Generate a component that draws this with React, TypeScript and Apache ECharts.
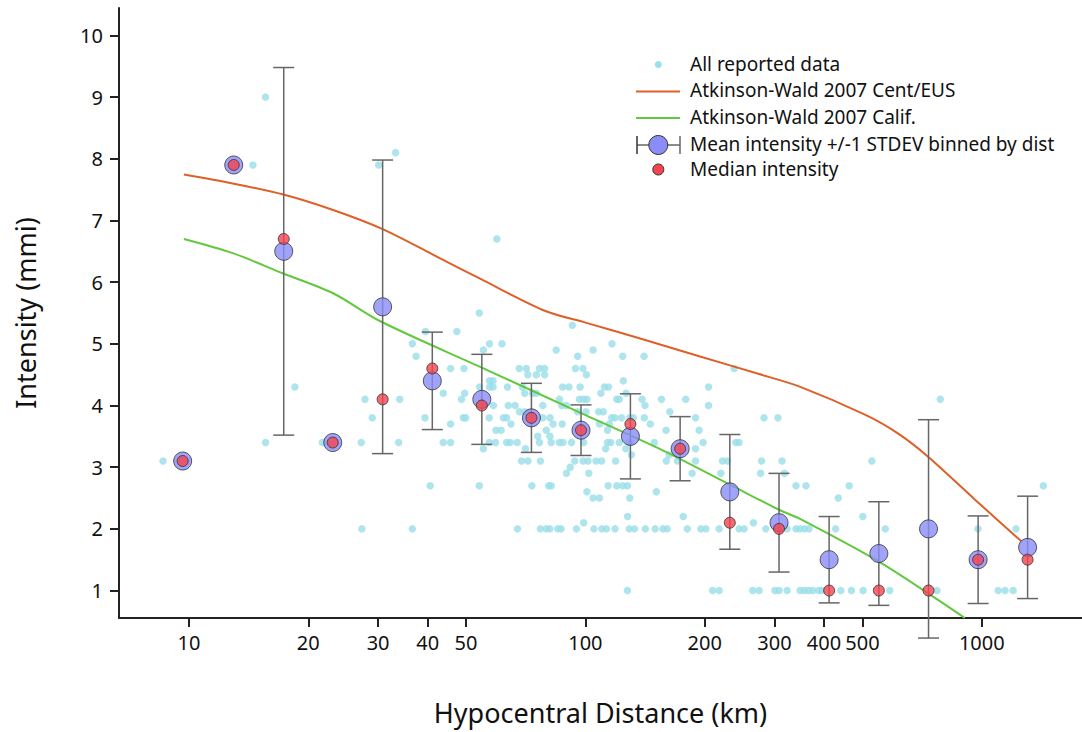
import React, { useEffect, useRef } from "react";
import * as echarts from "echarts";

// ---------- data ----------
const xTickValues = [10, 20, 30, 40, 50, 100, 200, 300, 400, 500, 1000];
const yTickValues = [1, 2, 3, 4, 5, 6, 7, 8, 9, 10];

// All reported data: [hypocentral distance (km), intensity (mmi)]
const reportedPoints: [number, number][] = [
  [15.6, 9.0], [33.2, 8.1], [14.5, 7.9], [30.1, 7.9], [59.8, 6.7], [54.0, 5.5], [92.7, 5.3],
  [39.5, 5.2], [47.4, 5.2],
  [36.6, 5.0], [57.3, 5.0], [61.6, 5.0], [116.7, 5.0],
  [55.3, 4.9], [84.4, 4.9], [104.6, 4.9],
  [37.4, 4.8], [95.6, 4.8], [124.2, 4.8], [140.6, 4.8],
  [45.7, 4.6], [49.4, 4.6], [68.1, 4.6], [71.0, 4.6], [76.6, 4.6], [78.9, 4.6], [94.4, 4.6], [98.6, 4.6], [237.3, 4.6],
  [71.6, 4.5], [75.2, 4.5], [78.9, 4.5], [100.6, 4.5],
  [57.3, 4.4], [58.5, 4.4], [124.7, 4.4],
  [18.5, 4.3], [54.1, 4.3], [57.3, 4.3], [58.5, 4.3], [63.6, 4.3], [69.4, 4.3], [87.6, 4.3], [90.9, 4.3], [97.0, 4.3], [111.7, 4.3], [114.4, 4.3], [204.5, 4.3],
  [43.8, 4.2], [49.6, 4.2], [70.3, 4.2], [73.6, 4.2], [75.2, 4.2], [109.4, 4.2], [126.7, 4.2],
  [27.8, 4.1], [34.0, 4.1], [48.7, 4.1], [86.0, 4.1], [96.6, 4.1], [99.0, 4.1], [100.9, 4.1], [120.0, 4.1], [121.8, 4.1], [139.0, 4.1], [155.6, 4.1], [179.1, 4.1], [786, 4.1],
  [58.6, 4.0], [63.9, 4.0], [66.5, 4.0], [78.1, 4.0], [87.2, 4.0], [89.6, 4.0], [141.4, 4.0], [204.5, 4.0],
  [68.2, 3.9], [70.3, 3.9], [95.6, 3.9], [100.4, 3.9], [108.0, 3.9], [111.0, 3.9], [163.3, 3.9],
  [29.0, 3.8], [39.4, 3.8], [49.2, 3.8], [49.9, 3.8], [57.2, 3.8], [62.1, 3.8], [63.3, 3.8], [78.1, 3.8], [81.4, 3.8], [116.5, 3.8], [118.8, 3.8], [123.4, 3.8], [129.4, 3.8], [132.1, 3.8], [140.8, 3.8], [189.6, 3.8], [282.3, 3.8], [306, 3.8],
  [45.7, 3.7], [64.9, 3.7], [82.9, 3.7], [87.4, 3.7], [108.5, 3.7], [114.9, 3.7], [145.8, 3.7],
  [59.5, 3.6], [61.3, 3.6], [79.7, 3.6], [113.7, 3.6], [159.8, 3.6], [193.7, 3.6],
  [75.8, 3.5], [81.4, 3.5],
  [15.6, 3.4], [21.7, 3.4], [27.2, 3.4], [33.8, 3.4], [43.8, 3.4], [45.7, 3.4], [57.2, 3.4], [59.3, 3.4], [63.3, 3.4], [64.6, 3.4], [67.3, 3.4], [76.6, 3.4], [82.0, 3.4], [86.0, 3.4], [87.8, 3.4], [92.3, 3.4], [99.0, 3.4], [113.7, 3.4], [115.9, 3.4], [121.8, 3.4], [129.4, 3.4], [149.2, 3.4], [198.2, 3.4], [239.6, 3.4], [244.2, 3.4],
  [55.3, 3.3], [70.6, 3.3], [112.5, 3.3], [126.5, 3.3], [189.6, 3.3],
  [130.6, 3.2], [162.6, 3.2],
  [8.6, 3.1], [69.0, 3.1], [71.6, 3.1], [77.0, 3.1], [94.0, 3.1], [98.7, 3.1], [101.5, 3.1], [106.4, 3.1], [109.9, 3.1], [119.2, 3.1], [160, 3.1], [170.8, 3.1], [189.6, 3.1], [221.8, 3.1], [228.4, 3.1], [278.3, 3.1], [313.4, 3.1], [528, 3.1],
  [91.6, 3.0],
  [89.6, 2.9], [102, 2.9], [185.9, 2.9], [219.6, 2.9], [276.7, 2.9], [317.9, 2.9],
  [40.6, 2.7], [54.0, 2.7], [73.3, 2.7], [80.8, 2.7], [82.0, 2.7], [114.1, 2.7], [120, 2.7], [124.2, 2.7], [127.7, 2.7], [339.8, 2.7], [360.1, 2.7], [463, 2.7], [1430, 2.7],
  [100.9, 2.6], [151, 2.6],
  [104.6, 2.5], [108.5, 2.5], [129.4, 2.5], [434.5, 2.5],
  [127.8, 2.2], [176.5, 2.2], [501, 2.2],
  [99.0, 2.1], [265.4, 2.1],
  [27.3, 2.0], [36.6, 2.0], [67.4, 2.0], [77.0, 2.0], [79.7, 2.0], [81.4, 2.0], [85.2, 2.0], [86.9, 2.0], [94.9, 2.0], [105.1, 2.0], [110, 2.0], [113, 2.0], [118.8, 2.0], [129.0, 2.0], [133.0, 2.0], [141.7, 2.0], [150, 2.0], [156.9, 2.0], [160.8, 2.0], [180.8, 2.0], [195.6, 2.0], [201.4, 2.0], [217.5, 2.0], [244.2, 2.0], [251.5, 2.0], [285.2, 2.0], [322.8, 2.0], [339.8, 2.0], [348.1, 2.0], [357.0, 2.0], [366.6, 2.0], [427.8, 2.0], [571, 2.0], [978, 2.0], [1220, 2.0],
  [127.7, 1.0], [209.4, 1.0], [217.5, 1.0], [264.3, 1.0], [274.3, 1.0], [300.7, 1.0], [308, 1.0], [322.8, 1.0], [348.1, 1.0], [357, 1.0], [366, 1.0], [375, 1.0], [388, 1.0], [395, 1.0], [441, 1.0], [469, 1.0], [502, 1.0], [586, 1.0], [771, 1.0], [1100, 1.0], [1145, 1.0], [1200, 1.0],
];

// Atkinson-Wald 2007 model curves: [distance (km), intensity]
const awCentEUS: [number, number][] = [
  [9.71, 7.745], [12.9, 7.6], [17.3, 7.42], [23.1, 7.17], [30.8, 6.86], [42.9, 6.39], [54.1, 6.06],
  [79.0, 5.536], [100.6, 5.34], [136.8, 5.09], [193.7, 4.8], [274.3, 4.51], [346, 4.31],
  [512, 3.84], [617, 3.54], [732, 3.17], [963, 2.47], [1260, 1.795],
];
const awCalif: [number, number][] = [
  [9.71, 6.7], [12.9, 6.47], [17.3, 6.14], [23.1, 5.82], [30.3, 5.37], [54.1, 4.63], [96.6, 3.89],
  [153.6, 3.3], [231, 2.72], [308, 2.31], [346, 2.17], [550, 1.47], [779, 0.84], [906, 0.555],
];

// Binned statistics
const binDist = [9.64, 12.97, 17.34, 23.05, 30.8, 41.1, 54.8, 73.1, 97.5, 129.9, 173.4, 231.4, 308, 412, 550, 734, 979, 1305];
const binMean = [3.1, 7.9, 6.5, 3.4, 5.6, 4.4, 4.1, 3.8, 3.6, 3.5, 3.3, 2.6, 2.1, 1.5, 1.6, 2.0, 1.5, 1.7];
const binStd = [0, 0, 2.98, 0, 2.38, 0.79, 0.73, 0.56, 0.41, 0.69, 0.52, 0.93, 0.8, 0.7, 0.84, 1.77, 0.71, 0.83];
const binMedian = [3.1, 7.9, 6.7, 3.4, 4.1, 4.6, 4.0, 3.8, 3.6, 3.7, 3.3, 2.1, 2.0, 1.0, 1.0, 1.0, 1.5, 1.5];

const legendLabels = [
  "All reported data",
  "Atkinson-Wald 2007 Cent/EUS",
  "Atkinson-Wald 2007 Calif.",
  "Mean intensity +/-1 STDEV binned by dist",
  "Median intensity",
];

// ---------- styles ----------
const FONT = "'Noto Sans', sans-serif";
const CYAN = "#9adfe9";
const ORANGE = "#de6028";
const GREEN = "#62c83e";
const BLUE = "#8a8cf8";
const RED = "#f5444f";
const BAR = "#666666";
const TEXT = "#111111";

export default function App() {
  const ref = useRef<HTMLDivElement>(null);

  useEffect(() => {
    if (!ref.current) return;
    const chart = echarts.init(ref.current, undefined, { renderer: "svg" });

    const errData = binDist
      .map((d, i) => [d, binMean[i] - binStd[i], binMean[i] + binStd[i], binStd[i]])
      .filter((r) => r[3] > 0);

    const lx = 690;
    const legendText = (text: string, y: number) => ({
      type: "text",
      x: lx,
      y,
      style: { text, fontFamily: FONT, fontSize: 19, fill: TEXT, verticalAlign: "middle", align: "left" },
    });

    const option: any = {
      animation: false,
      textStyle: { fontFamily: FONT },
      grid: { left: 119, top: 8, right: 0, bottom: 114, containLabel: false, outerBoundsMode: "none" },
      xAxis: {
        type: "log",
        logBase: 10,
        min: 6.66,
        max: 1790,
        name: "Hypocentral Distance (km)",
        nameLocation: "middle",
        nameGap: 81,
        nameTextStyle: { fontFamily: FONT, fontSize: 27, color: TEXT },
        axisLine: { show: true, onZero: false, lineStyle: { color: "#222", width: 2 } },
        axisTick: { show: true, length: 9, lineStyle: { color: "#222", width: 2 }, customValues: xTickValues },
        minorTick: { show: false },
        splitLine: { show: false },
        axisLabel: { fontFamily: FONT, fontSize: 20, color: TEXT, margin: 14, customValues: xTickValues, formatter: (v: number) => String(v) },
      },
      yAxis: {
        type: "value",
        min: 0.555,
        max: 10.445,
        name: "Intensity (mmi)",
        nameLocation: "middle",
        nameGap: 80,
        nameTextStyle: { fontFamily: FONT, fontSize: 27, color: TEXT },
        axisLine: { show: true, onZero: false, lineStyle: { color: "#222", width: 2 } },
        axisTick: { show: true, length: 9, lineStyle: { color: "#222", width: 2 }, customValues: yTickValues },
        splitLine: { show: false },
        axisLabel: { fontFamily: FONT, fontSize: 20, color: TEXT, margin: 16, customValues: yTickValues, formatter: (v: number) => String(v) },
      },
      series: [
        {
          name: legendLabels[0],
          type: "scatter",
          data: reportedPoints,
          symbol: "circle",
          symbolSize: 7.5,
          itemStyle: { color: CYAN },
          z: 1,
        },
        {
          name: legendLabels[1],
          type: "line",
          data: awCentEUS,
          smooth: 0.3,
          showSymbol: false,
          lineStyle: { color: ORANGE, width: 2 },
          z: 2,
        },
        {
          name: legendLabels[2],
          type: "line",
          data: awCalif,
          smooth: 0.3,
          showSymbol: false,
          lineStyle: { color: GREEN, width: 2 },
          z: 2,
        },
        {
          name: "stdev",
          type: "custom",
          clip: false,
          z: 3,
          data: errData,
          renderItem: (params: any, api: any) => {
            const x = api.value(0);
            const top = api.coord([x, api.value(2)]);
            const bot = api.coord([x, api.value(1)]);
            const hw = 10.5;
            const st = { stroke: BAR, lineWidth: 1.5 };
            return {
              type: "group",
              children: [
                { type: "line", shape: { x1: top[0], y1: top[1], x2: bot[0], y2: bot[1] }, style: st },
                { type: "line", shape: { x1: top[0] - hw, y1: top[1], x2: top[0] + hw, y2: top[1] }, style: st },
                { type: "line", shape: { x1: bot[0] - hw, y1: bot[1], x2: bot[0] + hw, y2: bot[1] }, style: st },
              ],
            };
          },
        },
        {
          name: legendLabels[3],
          type: "scatter",
          data: binDist.map((d, i) => [d, binMean[i]]),
          symbolSize: 18,
          itemStyle: { color: BLUE, borderColor: "#333", borderWidth: 1 },
          z: 4,
        },
        {
          name: legendLabels[4],
          type: "scatter",
          data: binDist.map((d, i) => [d, binMedian[i]]),
          symbolSize: 11,
          itemStyle: { color: RED, borderColor: "#333", borderWidth: 1 },
          z: 5,
        },
      ],
      graphic: [
        { type: "circle", shape: { cx: 658.3, cy: 64.5, r: 3.5 }, style: { fill: CYAN } },
        legendText(legendLabels[0], 64),
        { type: "line", shape: { x1: 636, y1: 91.5, x2: 680, y2: 91.5 }, style: { stroke: ORANGE, lineWidth: 2 } },
        legendText(legendLabels[1], 90),
        { type: "line", shape: { x1: 636, y1: 118, x2: 680, y2: 118 }, style: { stroke: GREEN, lineWidth: 2 } },
        legendText(legendLabels[2], 117),
        { type: "line", shape: { x1: 637, y1: 145, x2: 680, y2: 145 }, style: { stroke: BAR, lineWidth: 1.5 } },
        { type: "line", shape: { x1: 637, y1: 136, x2: 637, y2: 154 }, style: { stroke: "#333", lineWidth: 1.5 } },
        { type: "line", shape: { x1: 680, y1: 136, x2: 680, y2: 154 }, style: { stroke: BAR, lineWidth: 1.5 } },
        { type: "circle", shape: { cx: 658.3, cy: 145, r: 9.5 }, style: { fill: BLUE, stroke: "#333", lineWidth: 1 } },
        legendText(legendLabels[3], 144),
        { type: "circle", shape: { cx: 658.3, cy: 169.5, r: 5.5 }, style: { fill: RED, stroke: "#333", lineWidth: 1 } },
        legendText(legendLabels[4], 169),
      ],
    };

    chart.setOption(option);
    return () => chart.dispose();
  }, []);

  return (
    <div
      ref={ref}
      style={{ position: "fixed", left: 0, top: 0, width: 1082, height: 732, background: "#fff" }}
    />
  );
}
